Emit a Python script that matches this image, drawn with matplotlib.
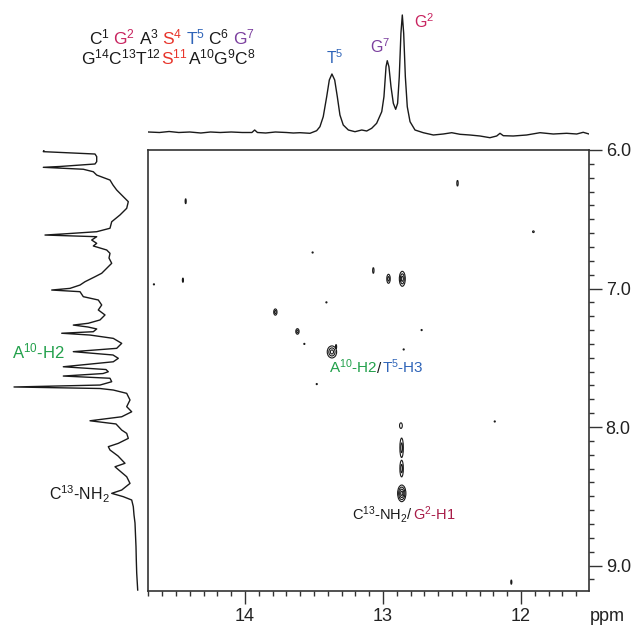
import matplotlib
matplotlib.use("Agg")
import matplotlib.pyplot as plt
from matplotlib.patches import Ellipse
from matplotlib.offsetbox import TextArea, HPacker, AnnotationBbox
from matplotlib.ticker import MultipleLocator, FormatStrFormatter

plt.rcParams["font.family"] = ["Liberation Sans", "DejaVu Sans"]
plt.rcParams["mathtext.fontset"] = "custom"
plt.rcParams["mathtext.rm"] = "Liberation Sans"
plt.rcParams["mathtext.default"] = "regular"

# colours used in the labels
BLACK = "#1a1a1a"
PINK = "#c8235f"
CRIMSON = "#a81c48"
RED = "#e8352b"
BLUE = "#2f64b8"
PURPLE = "#7b3f9e"
GREEN = "#22a04b"

# 1D projection on top (ppm, intensity)
top_ppm = [14.70, 14.62, 14.55, 14.48, 14.40, 14.32, 14.25, 14.18, 14.10, 14.02, 13.95, 13.93, 13.91,
           13.85, 13.78, 13.70, 13.65, 13.601, 13.529, 13.481, 13.457, 13.433, 13.408, 13.389, 13.370,
           13.350, 13.331, 13.312, 13.288, 13.251, 13.203, 13.154, 13.118, 13.082, 13.046, 13.009,
           12.993, 12.978, 12.969, 12.957, 12.942, 12.925, 12.908, 12.894, 12.882, 12.870, 12.860,
           12.850, 12.838, 12.824, 12.804, 12.768, 12.708, 12.635, 12.563, 12.502, 12.442, 12.370,
           12.297, 12.225, 12.176, 12.152, 12.128, 12.056, 11.959, 11.862, 11.766, 11.669, 11.596,
           11.549, 11.507]
top_int = [3.0, 2.5, 3.5, 2.5, 3.0, 2.0, 3.0, 2.5, 3.0, 2.5, 2.5, 5.0, 2.5,
           2.0, 3.0, 2.5, 2.0, 2.3, 1.7, 4.3, 8.3, 18.3, 38.3, 55.0, 61.0,
           55.0, 38.3, 20.0, 10.0, 5.0, 3.3, 5.0, 4.0, 6.7, 11.7, 23.3,
           38.3, 68.3, 74.3, 68.3, 48.3, 31.7, 25.7, 31.7, 58.3, 101.7, 120.0,
           101.7, 58.3, 28.3, 13.3, 5.0, 2.3, 0.0, 1.0, 2.3, 0.7, 0.0,
           -1.0, -2.7, -1.0, 1.7, -0.7, -1.0, 0.0, 2.3, 1.0, 1.7, 1.0,
           2.7, 1.0]

# 1D projection on the left (ppm, intensity)
left_ppm = [6.000, 6.012, 6.029, 6.048, 6.084, 6.101, 6.119, 6.125, 6.139, 6.157, 6.181, 6.217, 6.253,
            6.289, 6.337, 6.373, 6.421, 6.469, 6.518, 6.565, 6.590, 6.606, 6.614, 6.626, 6.650, 6.674,
            6.693, 6.722, 6.746, 6.780, 6.818, 6.854, 6.890, 6.915, 6.951, 6.975, 6.999, 7.011, 7.023,
            7.059, 7.083, 7.119, 7.155, 7.191, 7.227, 7.251, 7.264, 7.278, 7.292, 7.312, 7.323, 7.336,
            7.360, 7.396, 7.432, 7.456, 7.480, 7.504, 7.529, 7.565, 7.585, 7.601, 7.614, 7.632, 7.648,
            7.673, 7.697, 7.711, 7.722, 7.733, 7.757, 7.805, 7.853, 7.890, 7.926, 7.955, 7.978, 8.022,
            8.046, 8.082, 8.118, 8.142, 8.166, 8.209, 8.262, 8.287, 8.318, 8.359, 8.407, 8.455, 8.479,
            8.503, 8.527, 8.575, 8.635, 8.693, 8.780, 8.864, 8.960, 9.054, 9.177]
left_int = [96.0, 96.7, 45.0, 43.3, 43.3, 45.0, 80.0, 96.7, 56.7, 46.7, 43.3, 30.0, 27.0,
            23.3, 16.7, 11.7, 13.3, 20.0, 28.3, 30.0, 43.3, 76.7, 95.0, 43.3, 48.3, 43.3,
            46.7, 33.3, 30.0, 31.0, 28.3, 33.3, 38.3, 45.0, 55.0, 60.0, 70.0, 88.3, 60.0,
            56.7, 41.7, 38.3, 41.7, 35.0, 40.0, 51.7, 66.7, 52.0, 43.3, 46.7, 78.3, 50.0,
            26.7, 18.3, 23.3, 66.7, 27.0, 21.7, 26.7, 76.7, 34.0, 31.7, 37.0, 76.7, 30.0,
            28.3, 40.0, 126.0, 40.0, 26.7, 13.3, 10.0, 13.3, 8.3, 18.3, 50.0, 24.0, 18.3,
            13.3, 11.7, 21.7, 31.7, 30.0, 22.0, 15.0, 25.0, 20.0, 13.3, 10.0, 18.3, 28.3,
            16.7, 8.3, 6.7, 6.0, 5.0, 4.5, 4.0, 3.7, 3.3, 2.3]

# cross peaks of the 2D spectrum: centre, size (ppm) and number of contour rings
peak_x = [14.43, 13.51, 13.07, 12.96, 12.86, 14.66, 14.45, 13.41, 13.78, 13.62, 13.57, 13.37, 13.34,
          12.46, 11.91, 12.72, 12.85, 13.48, 12.87, 12.865, 12.865, 12.864, 12.19, 12.07]
peak_y = [6.37, 6.74, 6.87, 6.93, 6.93, 6.97, 6.94, 7.10, 7.17, 7.31, 7.40, 7.458, 7.42,
          6.24, 6.59, 7.30, 7.44, 7.69, 7.99, 8.15, 8.30, 8.479, 7.96, 9.12]
peak_w = [0.008, 0.008, 0.010, 0.025, 0.043, 0.008, 0.008, 0.008, 0.024, 0.024, 0.008, 0.068, 0.008,
          0.010, 0.012, 0.008, 0.008, 0.008, 0.020, 0.025, 0.025, 0.060, 0.008, 0.008]
peak_h = [0.035, 0.008, 0.040, 0.065, 0.108, 0.008, 0.030, 0.008, 0.045, 0.040, 0.008, 0.087, 0.030,
          0.040, 0.012, 0.008, 0.008, 0.008, 0.040, 0.140, 0.120, 0.120, 0.008, 0.030]
peak_n = [1, 1, 1, 2, 3, 1, 1, 1, 2, 2, 1, 3, 1,
          1, 1, 1, 1, 1, 1, 2, 2, 4, 1, 1]

X_LIM = (14.703, 11.507)
Y_LIM = (9.184, 6.0)

fig = plt.figure(figsize=(6.38, 6.27), dpi=100)
W, H = 638.0, 627.0

ax = fig.add_axes([148 / W, 1 - 591 / H, 441 / W, 441 / H])
ax_top = fig.add_axes([148 / W, 1 - 140 / H, 441 / W, 132 / H])
ax_left = fig.add_axes([5 / W, 1 - 591 / H, 135 / W, 441 / H])

# main 2D panel
for x, y, w, h, n in zip(peak_x, peak_y, peak_w, peak_h, peak_n):
    for k in range(n):
        s = 1 - k / n
        ax.add_patch(Ellipse((x, y), w * s, h * s, fill=False, edgecolor=BLACK, lw=0.8))

ax.set_xlim(*X_LIM)
ax.set_ylim(*Y_LIM)
ax.xaxis.set_major_locator(MultipleLocator(1))
ax.xaxis.set_minor_locator(MultipleLocator(0.1))
ax.yaxis.set_major_locator(MultipleLocator(1))
ax.yaxis.set_minor_locator(MultipleLocator(0.1))
ax.yaxis.set_major_formatter(FormatStrFormatter("%.1f"))
ax.yaxis.tick_right()
ax.tick_params(which="major", direction="out", length=9.5, width=1, color="#333333",
               labelsize=13, labelcolor="#222222", pad=2.5)
ax.tick_params(which="minor", direction="out", length=3.8, width=1, color="#333333")
for sp in ax.spines.values():
    sp.set_color("#333333")
    sp.set_linewidth(1.2)
ax.annotate("ppm", xy=(11.375, 0), xycoords=("data", "axes fraction"), xytext=(0, -12.5),
            textcoords="offset points", ha="center", va="top", fontsize=13, color="#222222",
            annotation_clip=False)

# top projection
ax_top.plot(top_ppm, top_int, color=BLACK, lw=1)
ax_top.set_xlim(*X_LIM)
ax_top.set_ylim(-5, 127)
ax_top.axis("off")
ax_top.text(13.348, 77, "T$^5$", color=BLUE, fontsize=11.5, ha="center", va="center")
ax_top.text(13.022, 88, "G$^7$", color=PURPLE, fontsize=11.5, ha="center", va="center")
ax_top.text(12.703, 113, "G$^2$", color=PINK, fontsize=11.5, ha="center", va="center")

# left projection
ax_left.plot(left_int, left_ppm, color=BLACK, lw=1)
ax_left.set_xlim(135, 0)
ax_left.set_ylim(*Y_LIM)
ax_left.axis("off")
ax_left.text(102, 7.456, "A$^{10}$-H2", color=GREEN, fontsize=12, ha="center", va="center")
ax_left.text(30, 8.484, "C$^{13}$-NH$_2$", color=BLACK, fontsize=11.5, ha="right", va="center")


def colored(parts, xy, coords, size, sep, target):
    boxes = [TextArea(t, textprops=dict(color=c, size=size)) for t, c in parts]
    pack = HPacker(children=boxes, align="baseline", pad=0, sep=sep)
    ab = AnnotationBbox(pack, xy, xycoords=coords, frameon=False, box_alignment=(0, 0.5),
                        annotation_clip=False)
    target.add_artist(ab)


# sequence
colored([("C$^1$", BLACK), ("G$^2$", PINK), ("A$^3$", BLACK), ("S$^4$", RED),
         ("T$^5$", BLUE), ("C$^6$", BLACK), ("G$^7$", PURPLE)],
        (89 / W, 1 - 37 / H), "figure fraction", 12.5, 2.5, fig)
colored([("G$^{14}$C$^{13}$T$^{12}$", BLACK), ("S$^{11}$", RED), ("A$^{10}$G$^9$C$^8$", BLACK)],
        (81 / W, 1 - 57 / H), "figure fraction", 12.5, 0, fig)

# cross peak labels
colored([("A$^{10}$-H2", GREEN), ("/", BLACK), ("T$^5$-H3", BLUE)],
        (13.391, 7.567), "data", 11, 0, ax)
colored([("C$^{13}$-NH$_2$/", BLACK), ("G$^2$-H1", CRIMSON)],
        (13.225, 8.635), "data", 10.5, 0, ax)

fig.savefig("out.png", dpi=100)
